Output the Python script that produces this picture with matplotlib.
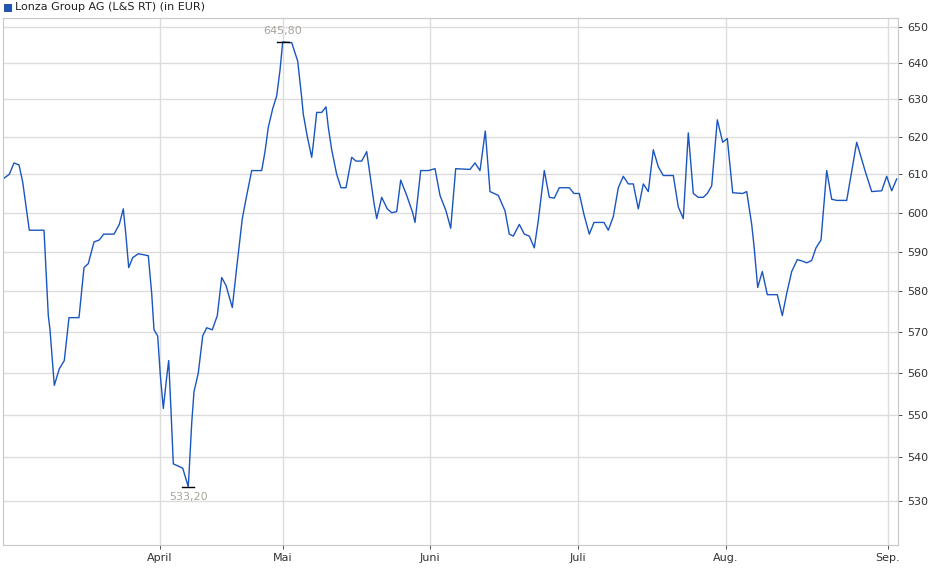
import matplotlib
matplotlib.use("Agg")
import matplotlib.pyplot as plt
from matplotlib.ticker import FixedLocator, NullLocator, FuncFormatter
from matplotlib.patches import Rectangle

# time index (trading-time units) and prices (EUR)
t = [4, 9.3, 14, 19, 22.7, 26.7, 29.3, 44, 45.7, 48.3, 50, 54.3, 59.3, 64.3, 69, 79, 84, 88.3, 94, 99.3,
     103.7, 114, 119.3, 123.3, 126, 128.7, 132.7, 138.3, 148.3, 151.7, 154, 157.7, 160.3, 163.3, 166.7,
     168.7, 171, 173.3, 182.7, 188.3, 191.7, 194, 198.3, 202.7, 206.7, 212.3, 217.3, 221.7, 226, 232.3,
     236.7, 242.3, 246.7, 251.7, 261.7, 265, 268.3, 272.7, 276.7, 280, 282.7, 291.7, 297.7, 301.7, 303.3,
     307.3, 311.7, 313.3, 316.7, 321.7, 326, 328.3, 331.7, 336.7, 341, 346, 351.7, 356, 361.7, 366.7,
     370.7, 374, 376.7, 381.7, 387.3, 391.7, 396.7, 400.7, 406.7, 412.7, 415, 416.7, 420.7, 428.3, 435,
     440, 446, 450.7, 455.7, 470, 475, 480, 485.3, 490, 498.3, 505, 509.3, 513.3, 519.3, 524.3, 529.3,
     534.3, 538.3, 544.3, 549.3, 554.3, 559.3, 569.3, 574, 579.3, 584, 589.3, 594, 604, 608.3, 613.3,
     618.3, 623.3, 628.3, 633.3, 638.3, 643.3, 648.3, 653.3, 658.3, 663.3, 673.3, 678.3, 683.3, 688.3,
     693.3, 698.3, 703.3, 707.3, 711.7, 717.3, 722.7, 727.3, 732.7, 742.7, 746.7, 751.7, 754, 757.7,
     762.3, 767.3, 777.3, 782.3, 786.7, 791.7, 797.3, 801.7, 806.7, 811.7, 816, 821, 826.7, 831.7, 836.7,
     846.7, 856.7, 865, 871.7, 881.7, 886.7, 891.7, 896.7]
price = [609, 610, 613, 612.5, 608, 600.5, 595.5, 595.5, 587, 574, 570.5, 557, 561, 563, 573.5, 573.5, 586,
         587, 592.5, 593, 594.5, 594.5, 597, 601, 594, 586, 588.5, 589.5, 589, 579.5, 570.5, 569, 559.5,
         551.5, 559, 563, 551, 538.5, 537.5, 533.2, 548, 555.5, 560, 569, 571, 570.5, 574, 583.5, 581.5,
         576, 586, 598.5, 604.5, 611, 611, 616, 622.5, 627.5, 631, 638, 645.8, 645.6, 640.5, 630.5, 626,
         620, 614.5, 618, 626.5, 626.5, 628, 622.5, 616.5, 610, 606.5, 606.5, 614.5, 613.5, 613.5, 616,
         608.5, 602.5, 598.5, 604, 601, 600, 600.3, 608.5, 604.5, 600, 597.5, 601.5, 611, 611, 611.5,
         604.5, 600.5, 596, 611.5, 611.3, 613, 611, 621.5, 605.5, 604.5, 600.5, 594.5, 594, 597, 594.5,
         594, 591, 598, 611, 604, 603.8, 606.5, 606.5, 605, 605, 599.5, 594.5, 597.5, 597.5, 595.5, 599,
         606.5, 609.5, 607.5, 607.5, 601, 607.5, 605.5, 616.5, 612, 609.7, 609.7, 601.5, 598.5, 621,
         605, 604, 604, 605, 607, 624.5, 618.5, 619.5, 605.2, 605, 605.5, 597, 591.5, 581, 585, 579.2,
         579.2, 574, 579.5, 585, 588, 587.7, 587.2, 587.8, 591, 593, 611, 603.5, 603.2, 603.2, 618.5,
         611, 605.5, 605.7, 609.5, 605.7, 608.8]
month_pos = [160, 283, 430, 578, 726, 888]
month_labels = ["April", "Mai", "Juni", "Juli", "Aug.", "Sep."]
y_ticks = [530, 540, 550, 560, 570, 580, 590, 600, 610, 620, 630, 640, 650]
title = "Lonza Group AG (L&S RT) (in EUR)"

fig = plt.figure(figsize=(9.4, 5.79), dpi=100)
ax = fig.add_axes([3/940, 1-545/579, 895/940, 527/579])
ax.set_yscale("log")
ax.set_xlim(3, 898)
ax.set_ylim(520, 652.5)
ax.plot(t, price, color="#1a55c0", lw=1.0)

ax.yaxis.set_major_locator(FixedLocator(y_ticks))
ax.yaxis.set_minor_locator(NullLocator())
ax.yaxis.set_major_formatter(FuncFormatter(lambda v, p: f"{v:.0f}"))
ax.yaxis.tick_right()
ax.set_xticks(month_pos)
ax.set_xticklabels(month_labels)
ax.tick_params(axis="both", labelsize=8, colors="#333333", length=3, width=0.6)
ax.tick_params(axis="x", pad=3)
ax.grid(True, color="#dcdcdc", lw=1)
ax.set_axisbelow(True)
for s in ax.spines.values():
    s.set_color("#c8c8c8")

imax = price.index(max(price))
imin = price.index(min(price))
for i, va, off in [(imax, "bottom", 4), (imin, "top", -4)]:
    ax.plot([t[i]-6, t[i]+6], [price[i]]*2, color="black", lw=1)
    ax.annotate(f"{price[i]:.2f}".replace(".", ","), (t[i], price[i]), xytext=(0, off),
                textcoords="offset points", ha="center", va=va, fontsize=8, color="#a8a49c")

fig.patches.append(Rectangle((4/940, 1-11/579), 7/940, 7/579, transform=fig.transFigure,
                             facecolor="#1a55c0", edgecolor="#1a3a80", lw=0.6))
fig.text(15/940, 1-7.5/579, title, fontsize=8, va="center", ha="left", color="#222222")
fig.savefig("out.png", dpi=100)
